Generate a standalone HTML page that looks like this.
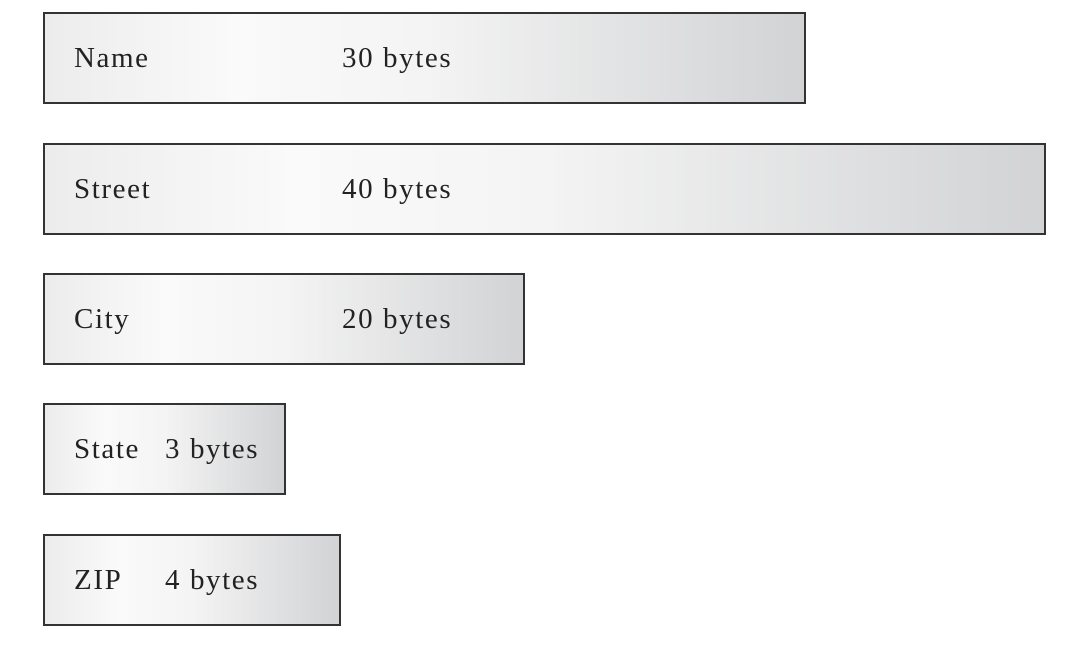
<!DOCTYPE html>
<html><head><style>
body{margin:0;width:1084px;height:646px;background:#fff;position:relative;overflow:hidden;font-family:"Liberation Serif",serif;font-size:29px;color:#222}
.b{position:absolute;box-sizing:border-box;border:2px solid #333;background:linear-gradient(90deg,#ececed 0%,#fafafa 25%,#f4f4f4 50%,#d2d3d5 100%)}
.t{position:absolute;line-height:1;letter-spacing:1.6px}
</style></head><body>
<div class="b" style="left:43px;top:12px;width:763px;height:92px"></div>
<div class="t" style="left:74px;top:44px">Name</div>
<div class="t" style="left:342px;top:44px">30 bytes</div>
<div class="b" style="left:43px;top:143px;width:1003px;height:92px"></div>
<div class="t" style="left:74px;top:175px">Street</div>
<div class="t" style="left:342px;top:175px">40 bytes</div>
<div class="b" style="left:43px;top:273px;width:482px;height:92px"></div>
<div class="t" style="left:74px;top:305px">City</div>
<div class="t" style="left:342px;top:305px">20 bytes</div>
<div class="b" style="left:43px;top:403px;width:243px;height:92px"></div>
<div class="t" style="left:74px;top:435px">State</div>
<div class="t" style="left:165px;top:435px">3 bytes</div>
<div class="b" style="left:43px;top:534px;width:298px;height:92px"></div>
<div class="t" style="left:74px;top:566px">ZIP</div>
<div class="t" style="left:165px;top:566px">4 bytes</div>
</body></html>
